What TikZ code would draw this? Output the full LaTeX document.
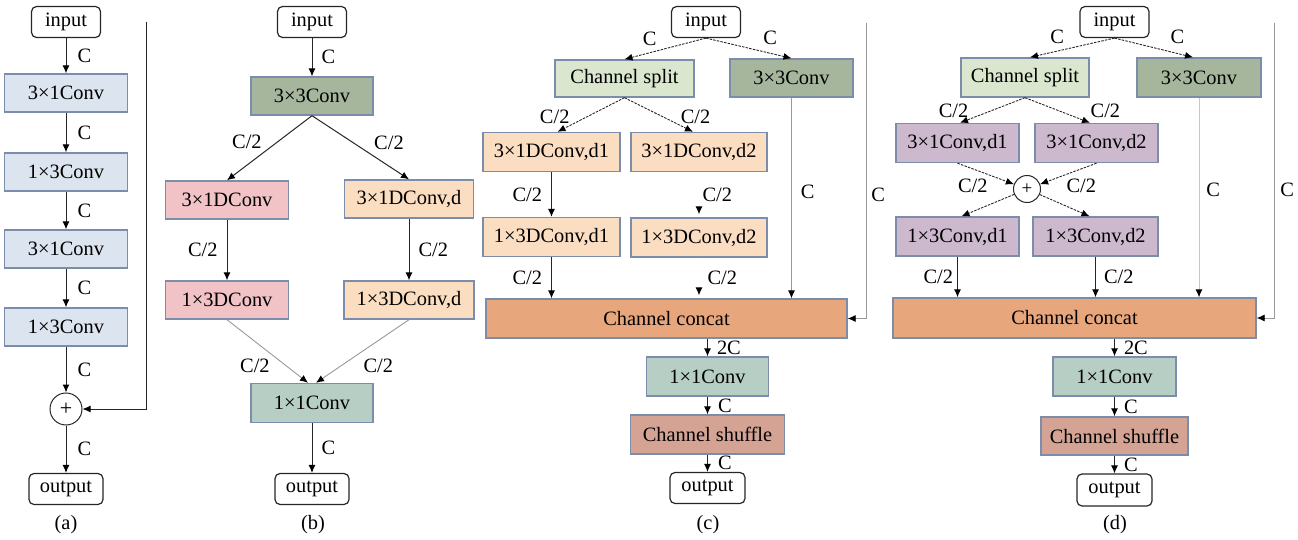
\documentclass[tikz,border=0pt]{standalone}
\usepackage{fontspec}
\setmainfont{Liberation Serif}
\usetikzlibrary{arrows.meta,positioning}

\definecolor{bordc}{HTML}{7B8DAB}
\definecolor{blugray}{HTML}{DCE4EF}
\definecolor{darkgrn}{HTML}{A6B69D}
\definecolor{pinkc}{HTML}{F2C3C6}
\definecolor{peachc}{HTML}{FBDDC2}
\definecolor{tealc}{HTML}{B7CEC4}
\definecolor{splitc}{HTML}{DAE6CE}
\definecolor{catc}{HTML}{E8A67D}
\definecolor{shufc}{HTML}{D5A394}
\definecolor{purpc}{HTML}{CDB9CD}

\begin{document}
\begin{tikzpicture}[x=1pt,y=-1pt,font=\rmfamily\fontsize{20.4}{24}\selectfont,
	>={Latex[length=8pt,width=7pt,color=black]},->,line width=1pt,draw=black!85,
	blk/.style={draw=bordc,line width=1.4pt,inner sep=0pt,minimum height=38pt},
	io/.style={draw=black!85,line width=1.2pt,rounded corners=5pt,inner sep=0pt,minimum width=69pt,minimum height=31pt,fill=white},
	sumc/.style={circle,draw=black!85,line width=1pt,inner sep=0pt,font=\rmfamily\fontsize{22}{22}\selectfont},
	lbl/.style={inner sep=1pt},
	dsh/.style={dash pattern=on 2.5pt off 1.2pt,line width=0.9pt},
	faint/.style={draw=black!40,line width=0.9pt},
	nolin/.style={draw=white,shorten >=3pt}]
	\useasboundingbox (0,0) rectangle (1298,540);

	% (a)
	\node[io] (ain) at (66,22) {input};
	\node[blk,fill=blugray,minimum width=123pt] (a1) at (66,93) {3×1Conv};
	\node[blk,fill=blugray,minimum width=123pt] (a2) at (66,172) {1×3Conv};
	\node[blk,fill=blugray,minimum width=123pt] (a3) at (66,249) {3×1Conv};
	\node[blk,fill=blugray,minimum width=123pt] (a4) at (66,327) {1×3Conv};
	\node[sumc,minimum size=32pt] (aplus) at (66,409) {+};
	\node[io,minimum width=74pt] (aout) at (66,489) {output};
	\node (capa) at (66,525) {(a)};
	\coordinate (askip) at (146,22);

	\draw (ain) -- node[lbl,right=10pt] {C} (a1);
	\draw (a1) -- node[lbl,right=10pt] {C} (a2);
	\draw (a2) -- node[lbl,right=10pt] {C} (a3);
	\draw (a3) -- node[lbl,right=10pt] {C} (a4);
	\draw (a4) -- node[lbl,right=10pt] {C} (aplus);
	\draw (aplus) -- node[lbl,right=10pt] {C} (aout);
	\draw (askip) |- (aplus);

	% (b)
	\node[io] (bin) at (312,22) {input};
	\node[blk,fill=darkgrn,minimum width=122pt] (b0) at (312,96) {3×3Conv};
	\node[blk,fill=pinkc,minimum width=123pt] (b1) at (227,200) {3×1DConv};
	\node[blk,fill=peachc,minimum width=129pt] (b2) at (409,199) {3×1DConv,d};
	\node[blk,fill=pinkc,minimum width=123pt] (b3) at (227,300) {1×3DConv};
	\node[blk,fill=peachc,minimum width=130pt] (b4) at (409,300) {1×3DConv,d};
	\node[blk,fill=tealc,minimum width=122pt,minimum height=39pt] (b5) at (312,403) {1×1Conv};
	\node[io,minimum width=74pt] (bout) at (312,489) {output};
	\node (capb) at (313,525) {(b)};

	\draw (bin) -- node[lbl,right=8pt] {C} (b0);
	\draw (b0.south) -- node[lbl,pos=0.41,left=14pt] {C/2} (b1.north);
	\draw (b0.south) -- node[lbl,pos=0.42,right=20pt] {C/2} (b2.north);
	\draw (b1) -- node[lbl,left=8pt] {C/2} (b3);
	\draw (b2) -- node[lbl,right=8pt] {C/2} (b4);
	\draw[faint] (b3.south) -- node[lbl,pos=0.73,left=15pt] {C/2} ([xshift=-4pt]b5.north);
	\draw[faint] (b4.south) -- node[lbl,pos=0.73,right=21pt] {C/2} ([xshift=4pt]b5.north);
	\draw (b5) -- node[lbl,right=8pt] {C} (bout);

	% (c)
	\node[io] (cin) at (706,22) {input};
	\node[blk,fill=splitc,minimum width=139pt,minimum height=37pt] (csplit) at (624.5,78.5) {Channel split};
	\node[blk,fill=darkgrn,minimum width=123pt] (cconv) at (791.5,78) {3×3Conv};
	\node[blk,fill=peachc,minimum width=137pt,minimum height=39pt] (c1) at (551.5,152) {3×1DConv,d1};
	\node[blk,fill=peachc,minimum width=136pt,minimum height=39pt] (c2) at (699,152) {3×1DConv,d2};
	\node[blk,fill=peachc,minimum width=137pt,minimum height=39pt] (c3) at (551.5,237) {1×3DConv,d1};
	\node[blk,fill=peachc,minimum width=136pt,minimum height=39pt] (c4) at (699,237.5) {1×3DConv,d2};
	\node[blk,fill=catc,minimum width=361pt,minimum height=39pt] (ccat) at (666.5,318.5) {Channel concat};
	\node[blk,fill=tealc,minimum width=122pt,minimum height=39pt] (c5) at (707.5,376.5) {1×1Conv};
	\node[blk,fill=shufc,minimum width=154pt,minimum height=39pt] (cshuf) at (707.5,434.5) {Channel shuffle};
	\node[io,minimum width=75pt] (cout) at (707.5,488) {output};
	\node (capc) at (708,525) {(c)};
	\coordinate (cskip) at (866,23);

	\draw[dsh] (cin.south) -- node[lbl,pos=0.69,above=6pt] {C} (csplit.north);
	\draw[dsh] (cin.south) -- node[lbl,pos=0.75,above=7pt] {C} (cconv.north);
	\draw[dsh] (csplit.south) -- node[lbl,pos=0.8,above left=0pt] {C/2} ([xshift=6pt]c1.north);
	\draw[dsh] (csplit.south) -- node[lbl,pos=0.8,above right=0pt] {C/2} ([xshift=-6pt]c2.north);
	\draw (c1) -- node[lbl,left=8pt] {C/2} (c3);
	\draw[nolin] (c2) -- node[lbl,right=2pt] {C/2} (c4);
	\draw (c3) -- node[lbl,left=8pt] {C/2} (c3 |- ccat.north);
	\draw[nolin] (c4) -- node[lbl,right=7pt] {C/2} (c4 |- ccat.north);
	\draw[faint] (cconv) -- node[lbl,pos=0.47,right=8pt] {C} (cconv |- ccat.north);
	\draw[faint] (cskip) |- node[lbl,pos=0.29,right=4pt] {C} (ccat);
	\draw (c5 |- ccat.south) -- node[lbl,right=8pt] {2C} (c5);
	\draw (c5) -- node[lbl,right=9pt] {C} (cshuf);
	\draw (cshuf) -- node[lbl,right=9pt] {C} (cout);

	% (d)
	\node[io] (din) at (1114.5,22) {input};
	\node[blk,fill=splitc,minimum width=128pt,minimum height=39pt] (dsplit) at (1025,77.5) {Channel split};
	\node[blk,fill=darkgrn,minimum width=124pt,minimum height=39pt] (dconv) at (1199,77.5) {3×3Conv};
	\node[blk,fill=purpc,minimum width=123pt,minimum height=39pt] (d1) at (957.5,143) {3×1Conv,d1};
	\node[blk,fill=purpc,minimum width=123pt,minimum height=39pt] (d2) at (1096.5,143) {3×1Conv,d2};
	\node[sumc,minimum size=27pt,font=\rmfamily\fontsize{19}{19}\selectfont] (dplus) at (1027,189) {+};
	\node[blk,fill=purpc,minimum width=123pt,minimum height=39pt] (d3) at (957.5,236.5) {1×3Conv,d1};
	\node[blk,fill=purpc,minimum width=125pt,minimum height=39pt] (d4) at (1095.5,236.5) {1×3Conv,d2};
	\node[blk,fill=catc,minimum width=363pt,minimum height=40pt] (dcat) at (1074.5,318) {Channel concat};
	\node[blk,fill=tealc,minimum width=123pt,minimum height=39pt] (d5) at (1114.5,376.5) {1×1Conv};
	\node[blk,fill=shufc,minimum width=147pt] (dshuf) at (1114.5,436) {Channel shuffle};
	\node[io,minimum width=75pt,minimum height=32pt] (dout) at (1114.5,490) {output};
	\node (capd) at (1115,525) {(d)};
	\coordinate (dskip) at (1274,23);

	\draw[dsh] (din.south) -- node[lbl,pos=0.68,above=6pt] {C} ([xshift=5pt]dsplit.north);
	\draw[dsh] (din.south) -- node[lbl,pos=0.8,above=8pt] {C} ([xshift=-6pt]dconv.north);
	\draw[dsh] (dsplit.south) -- node[lbl,pos=0.85,above left=0pt] {C/2} ([xshift=2.5pt]d1.north);
	\draw[dsh] (dsplit.south) -- node[lbl,pos=0.85,above right=0pt and 9pt] {C/2} ([xshift=-6.5pt]d2.north);
	\draw[dsh] (d1.south) -- node[lbl,pos=0.7,below left=0pt and 8pt] {C/2} (dplus);
	\draw[dsh] (d2.south) -- node[lbl,pos=0.7,below right=0pt and 8pt] {C/2} (dplus);
	\draw[dsh] (dplus) -- ([xshift=4pt]d3.north);
	\draw[dsh] (dplus) -- ([xshift=-6pt]d4.north);
	\draw (d3) -- node[lbl,left=3pt] {C/2} (d3 |- dcat.north);
	\draw (d4) -- node[lbl,right=7pt] {C/2} (d4 |- dcat.north);
	\draw[faint,draw=black!22] (dconv) -- node[lbl,pos=0.46,right=6pt] {C} (dconv |- dcat.north);
	\draw[faint] (dskip) |- node[lbl,pos=0.283,right=5pt] {C} (dcat);
	\draw (d5 |- dcat.south) -- node[lbl,right=8pt] {2C} (d5);
	\draw (d5) -- node[lbl,right=8pt] {C} (dshuf);
	\draw (dshuf) -- node[lbl,right=8pt] {C} (dout);
\end{tikzpicture}
\end{document}
